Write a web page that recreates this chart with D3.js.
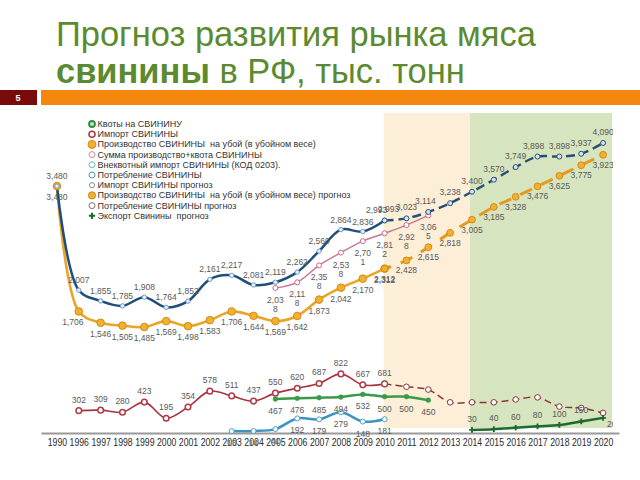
<!DOCTYPE html>
<html><head><meta charset="utf-8">
<script src="https://cdn.jsdelivr.net/npm/d3@7"></script>
<style>
body{margin:0;background:#fff}
svg text{font-family:"Liberation Sans",Arial,sans-serif}
</style>
</head><body>
<svg id="c" width="640" height="480"></svg>
<script>
// ---------- DATA ----------
const years = ["1990","1996","1997","1998","1999","2000","2001","2002","2003","2004","2005","2006","2007","2008","2009","2010","2011","2012","2013","2014","2015","2016","2017","2018","2019","2020"];
const consumption   = [3480,2007,1855,1785,1908,1764,1852,2161,2217,2081,2119,2262,2560,2864,2836,2993]; // 1990-2010
const consumptionFc = [2993,3023,3114,3238,3400,3570,3749,3898,3898,3937,4090];                     // 2010-2020
const production    = [3480,1706,1546,1505,1485,1569,1498,1583,1706,1644,1569,1642,1873,2042,2170,2312]; // 1990-2010
const productionFc  = [2312,2428,2615,2818,3005,3185,3328,3476,3625,3775,3923];                     // 2010-2020
const imports       = [302,309,280,423,195,354,578,511,437,550,620,687,822,667,681];                // 1996-2010
const importsFc     = [681,640,600,420,420,420,460,490,360,340,270];                                // 2010-2020
const quota         = [467,476,485,494,532,500,500,450];                                            // 2005-2012
const prodPlusQuota = [2038,2118,2358,2538,2701,2812,2928,3065];                                    // 2005-2012
const extraImport   = [13,14,41,192,179,279,148,181];                                               // 2003-2010
const exportFc      = [30,40,60,80,100,150,200];                                                    // 2014-2020
const legendLabels = [
  "Квоты на СВИНИНУ",
  "Импорт СВИНИНЫ",
  "Производство СВИНИНЫ  на убой (в убойном весе)",
  "Сумма производство+квота СВИНИНЫ",
  "Внеквотный импорт СВИНИНЫ (КОД 0203).",
  "Потребление СВИНИНЫ",
  "Импорт СВИНИНЫ прогноз",
  "Производство СВИНИНЫ  на убой (в убойном весе) прогноз",
  "Потребление СВИНИНЫ прогноз",
  "Экспорт Свинины  прогноз"
];
const titleLine1 = "Прогноз развития рынка мяса";
const titleBold = "свинины";
const titleRest = " в РФ, тыс. тонн";
const slideNumber = "5";

// ---------- SETUP ----------
const svg = d3.select("#c");
const x = d3.scalePoint().domain(years).range([41, 619]).padding(0.73);
const y = d3.scaleLinear().domain([0, 4500]).range([432, 114]);
const fmt = d3.format(",");
const FONT = '"Liberation Sans",Arial,sans-serif';

// header
svg.append("rect").attr("x",0).attr("y",90).attr("width",37).attr("height",15).attr("fill","#7a0b0b");
svg.append("text").attr("x",18).attr("y",98).attr("text-anchor","middle").attr("dominant-baseline","central")
  .attr("fill","#fff").attr("font-size",9).attr("font-weight","bold").text(slideNumber);
svg.append("rect").attr("x",41).attr("y",90).attr("width",599).attr("height",15).attr("fill","#f5870f");

const t1 = svg.append("text").attr("x",56).attr("y",46).attr("fill","#5b8a2f").attr("font-size",32).text(titleLine1);
const w = t1.node().getComputedTextLength();
const fs = 32 * 480 / w;
t1.attr("font-size", fs);
const t2 = svg.append("text").attr("x",56).attr("y",83).attr("fill","#5b8a2f").attr("font-size",fs);
t2.append("tspan").attr("font-weight","bold").text(titleBold);
t2.append("tspan").text(titleRest);

// shaded forecast zones
const zTop = y(4500) - 1, zBot = y(0) - 4;
svg.append("rect").attr("x", x("2010") - 1).attr("y", zTop)
  .attr("width", x("2014") - 2 - (x("2010") - 1)).attr("height", zBot - zTop).attr("fill", "#fdeed8");
svg.append("rect").attr("x", x("2014") - 2).attr("y", zTop)
  .attr("width", x("2020") + 9 - (x("2014") - 2)).attr("height", zBot - zTop).attr("fill", "#d6e4bf");

// axis
const axis = svg.append("g").attr("transform", `translate(0,${y(0) + 1})`)
  .call(d3.axisBottom(x).tickSize(0).tickPadding(6));
axis.select(".domain").attr("stroke", "#9a9a9a").attr("stroke-width", 2);
axis.selectAll("text").attr("font-size", 10).attr("fill", "#2a2a2a").attr("font-family", FONT)
  .attr("textLength", x.step() - 2.5).attr("lengthAdjust", "spacingAndGlyphs");

// ---------- SERIES ----------
const series = [
  {name:"imports", start:"1996", values:imports, color:"#a8323f", width:1.6,
   marker:{type:"circle", r:2.8, fill:"#fff", stroke:"#b03a48", sw:1.5}, label:{dy:-11}},
  {name:"importsFc", start:"2010", values:importsFc, color:"#8b3535", width:1.5, dash:"7,4",
   marker:{type:"circle", r:2.8, fill:"#fff", stroke:"#8b3535", sw:1}, label:null},
  {name:"extraImport", start:"2003", values:extraImport, color:"#3c93c2", width:2.5,
   marker:{type:"circle", r:2.5, fill:"#fff", stroke:"#4aa0c8", sw:1}, label:{dy:12}},
  {name:"quota", start:"2005", values:quota, color:"#3a9a48", width:2.5,
   marker:{type:"circle", r:2.4, fill:"#3a9a48", stroke:"#3a9a48", sw:0.5}, label:{dy:12}},
  {name:"exportFc", start:"2014", values:exportFc, color:"#1e6a2e", width:2.5,
   marker:{type:"cross", size:18, fill:"#1e6a2e"}, label:{dy:-11}},
  {name:"prodPlusQuota", start:"2005", values:prodPlusQuota, color:"#c87890", width:1.5,
   marker:{type:"circle", r:2.5, fill:"#fff", stroke:"#c86a88", sw:1}, label:{dy:12, wrap:true}},
  {name:"production", start:"1990", values:production, color:"#eaa42a", width:2.6,
   marker:{type:"circle", r:3.8, fill:"#f0b032", stroke:"#d68c12", sw:1}, label:{dy:11}},
  {name:"productionFc", start:"2010", values:productionFc, color:"#e49a20", width:3, dash:"13,10", dashoffset:6,
   marker:{type:"circle", r:3.4, fill:"#f0b032", stroke:"#d68c12", sw:1}, label:{dy:10}},
  {name:"consumption", start:"1990", values:consumption, color:"#1f4e7a", width:2.5,
   marker:{type:"circle", r:2.2, fill:"#e4eef8", stroke:"#6f9cc8", sw:1}, label:{dy:-10}},
  {name:"consumptionFc", start:"2010", values:consumptionFc, color:"#2a4f72", width:2.5, dash:"9,5",
   marker:{type:"circle", r:2.5, fill:"#d2e3f2", stroke:"#2a4f72", sw:1}, label:{dy:-11}}
];
// per-label nudges (label placement only)
const labelNudge = {
  "production-1996": {dx:-6},
  "consumption-2010": {dx:-8},
  "consumptionFc-2010": {dx:4},
  "consumptionFc-2012": {dx:-3},
  "consumptionFc-2017": {dx:-4},
  "exportFc-2020": {dx:11, dy:6}
};

const clip = svg.append("defs").append("clipPath").attr("id","plotclip");
clip.append("rect").attr("x",0).attr("y",0).attr("width",613).attr("height",480);

const gLines = svg.append("g"), gMarks = svg.append("g"), gLabels = svg.append("g").attr("clip-path","url(#plotclip)");

series.forEach(s => {
  const i0 = years.indexOf(s.start);
  const pts = s.values.map((v, i) => ({year: years[i0 + i], v}));
  const line = d3.line().x(d => x(d.year)).y(d => y(d.v)).curve(d3.curveCatmullRom.alpha(0.5));
  const p = gLines.append("path").datum(pts).attr("d", line).attr("fill","none")
    .attr("stroke", s.color).attr("stroke-width", s.width).attr("stroke-linejoin","round").attr("stroke-linecap","round");
  if (s.dash) p.attr("stroke-dasharray", s.dash).attr("stroke-dashoffset", s.dashoffset || 0).attr("stroke-linecap","butt");
  const m = s.marker;
  if (m.type === "circle") {
    gMarks.selectAll(null).data(pts).join("circle")
      .attr("cx", d => x(d.year)).attr("cy", d => y(d.v)).attr("r", m.r)
      .attr("fill", m.fill).attr("stroke", m.stroke).attr("stroke-width", m.sw);
  } else {
    gMarks.selectAll(null).data(pts).join("path")
      .attr("transform", d => `translate(${x(d.year)},${y(d.v)})`)
      .attr("d", d3.symbol(d3.symbolCross, m.size)).attr("fill", m.fill);
  }
  if (s.label) {
    pts.forEach(d => {
      const n = labelNudge[s.name + "-" + d.year] || {};
      const lx = x(d.year) + (n.dx || 0), ly = y(d.v) + (n.dy !== undefined ? n.dy : s.label.dy);
      const txt = fmt(d.v);
      const t = gLabels.append("text").attr("x", lx).attr("y", ly).attr("text-anchor","middle")
        .attr("dominant-baseline","central").attr("font-size", 8.5).attr("fill","#595959");
      if (s.label.wrap) {
        t.append("tspan").attr("x", lx).attr("y", ly).text(txt.slice(0, 4));
        t.append("tspan").attr("x", lx).attr("y", ly + 9).text(txt.slice(4));
      } else t.text(txt);
    });
  }
});

// ---------- LEGEND ----------
const legendMarks = [
  {type:"circle", r:3, fill:"#bfe0c4", stroke:"#2f8f3f", sw:1.8},
  {type:"circle", r:3, fill:"#fff", stroke:"#b03a48", sw:1.6},
  {type:"circle", r:4, fill:"#f0b032", stroke:"#d68c12", sw:1},
  {type:"circle", r:3, fill:"#fff", stroke:"#d08a9a", sw:1},
  {type:"circle", r:3, fill:"#fff", stroke:"#6ab8c8", sw:1},
  {type:"circle", r:3, fill:"#fff", stroke:"#4a9ab8", sw:1},
  {type:"circle", r:2.6, fill:"#fff", stroke:"#888", sw:1},
  {type:"circle", r:3.6, fill:"#f0b032", stroke:"#c88a20", sw:1},
  {type:"circle", r:3, fill:"#fff", stroke:"#777", sw:1},
  {type:"cross", size:22, fill:"#1e6a2e"}
];
const lg = svg.append("g");
legendLabels.forEach((lab, i) => {
  const ly = 124 + i * 10.2;
  const m = legendMarks[i];
  if (m.type === "circle") {
    lg.append("circle").attr("cx", 92).attr("cy", ly).attr("r", m.r)
      .attr("fill", m.fill).attr("stroke", m.stroke).attr("stroke-width", m.sw);
  } else {
    lg.append("path").attr("transform", `translate(92,${ly})`).attr("d", d3.symbol(d3.symbolCross, m.size)).attr("fill", m.fill);
  }
  lg.append("text").attr("x", 97.5).attr("y", ly).attr("dominant-baseline","central")
    .attr("font-size", 9).attr("fill","#333").style("white-space","pre").text(lab);
});
</script>
</body></html>
